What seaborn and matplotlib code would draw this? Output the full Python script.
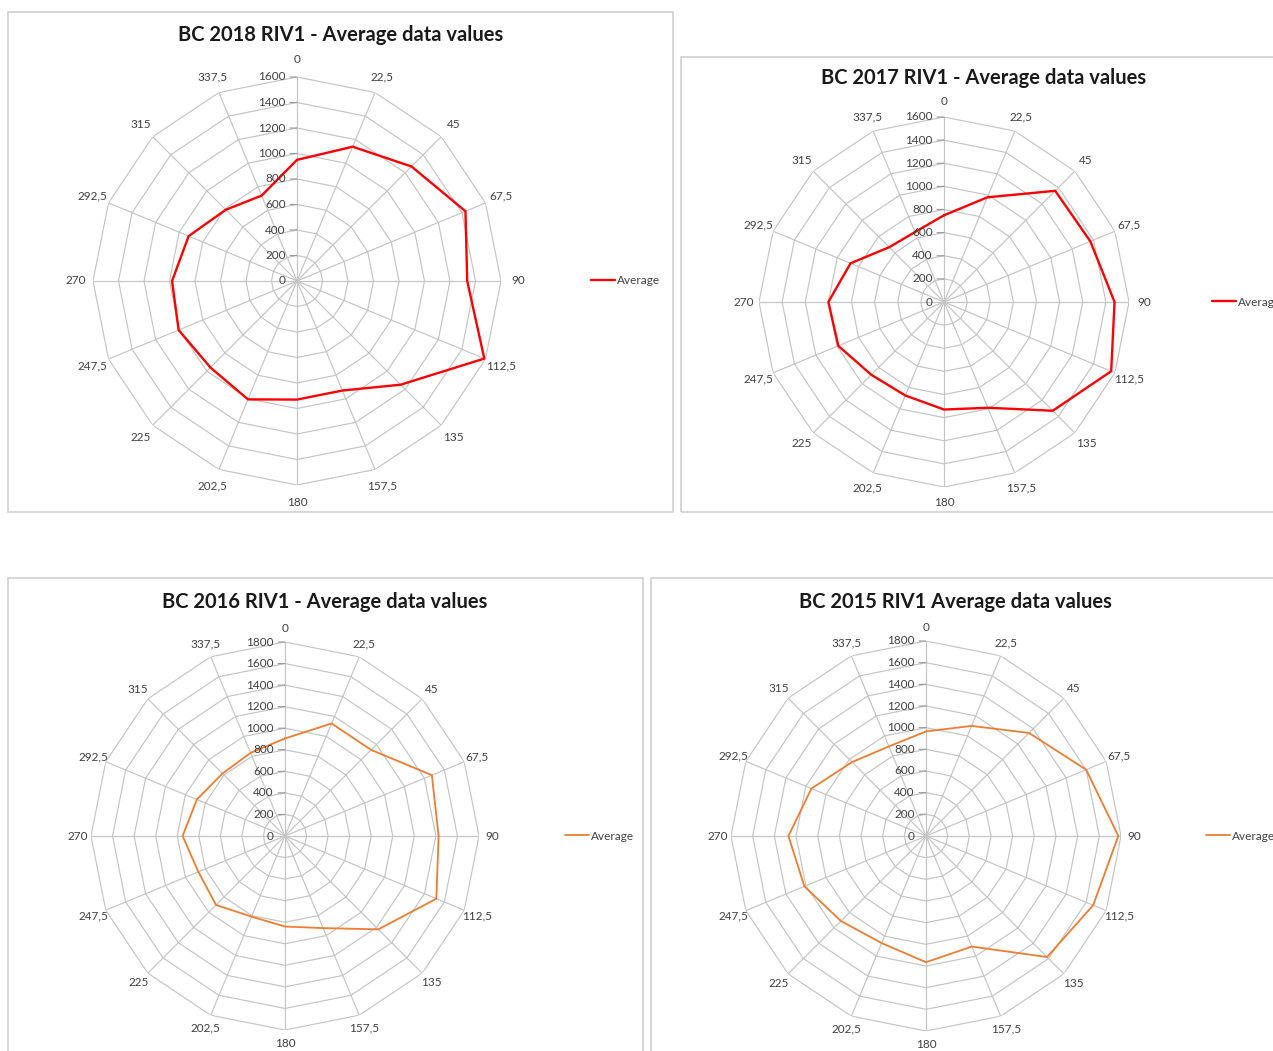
import numpy as np
import pandas as pd
import matplotlib
matplotlib.use("Agg")
import matplotlib.pyplot as plt
import seaborn as sns
from matplotlib.patches import Rectangle

sns.set_theme(style="white")
plt.rcParams['font.family'] = ['Lato', 'DejaVu Sans']

# ---------------- data ----------------
directions = ["0", "22,5", "45", "67,5", "90", "112,5", "135", "157,5",
              "180", "202,5", "225", "247,5", "270", "292,5", "315", "337,5"]
angles_deg = [0, 22.5, 45, 67.5, 90, 112.5, 135, 157.5,
              180, 202.5, 225, 247.5, 270, 292.5, 315, 337.5]

avg_2018 = [950, 1140, 1270, 1430, 1335, 1590, 1150, 930,
            930, 1005, 960, 1005, 980, 920, 790, 725]
avg_2017 = [750, 980, 1360, 1370, 1475, 1565, 1330, 990,
            930, 875, 890, 990, 1000, 875, 670, 655]
avg_2016 = [905, 1130, 1130, 1475, 1425, 1520, 1225, 925,
            840, 810, 905, 870, 950, 885, 820, 835]
avg_2015 = [965, 1100, 1345, 1600, 1775, 1670, 1580, 1105,
            1165, 1070, 1110, 1215, 1270, 1145, 965, 895]

titles = ["BC 2018 RIV1 - Average data values",
          "BC 2017 RIV1 - Average data values",
          "BC 2016 RIV1 - Average data values",
          "BC 2015 RIV1 Average data values"]
series = [avg_2018, avg_2017, avg_2016, avg_2015]
rmaxes = [1600, 1600, 1800, 1800]
rstep = 200
colors = ["#ff0000", "#ff0000", "#ed7d31", "#ed7d31"]
lwidths = [1.7, 1.7, 1.3, 1.3]

# layout in pixels (figure 1273 x 1051)
W, H = 1273, 1051
centers = [(297, 281), (944, 302), (285, 836), (926, 836)]
radii = [204, 185, 194, 195]
label_factor = [1.085, 1.085, 1.07, 1.07]
boxes = [(8, 12, 673, 512), (681, 57, 1290, 512), (8, 578, 643, 1060), (651, 578, 1290, 1060)]
title_pos = [(341, 35), (984, 78), (325, 602), (955, 602)]
legend_pos = [(591, 281), (1212, 302), (565, 836), (1206, 836)]

fig = plt.figure(figsize=(W / 100, H / 100), dpi=100)
fig.patch.set_facecolor("white")

theta = np.deg2rad(angles_deg)
theta_closed = np.append(theta, theta[0])
grid_col = "#c4c4c4"
txt_col = "#404040"

for i in range(4):
    bx0, by0, bx1, by1 = boxes[i]
    fig.add_artist(Rectangle((bx0 / W, 1 - by1 / H), (bx1 - bx0) / W, (by1 - by0) / H,
                             transform=fig.transFigure, fill=False,
                             edgecolor="#d0d0d0", linewidth=1.2))

    cx, cy = centers[i]
    R = radii[i]
    ax = fig.add_axes([(cx - R) / W, 1 - (cy + R) / H, 2 * R / W, 2 * R / H],
                      projection="polar")
    ax.set_theta_zero_location("N")
    ax.set_theta_direction(-1)
    ax.patch.set_alpha(0)
    ax.grid(False)
    ax.spines["polar"].set_visible(False)
    ax.set_xticks([])
    ax.set_yticks([])

    rmax = rmaxes[i]
    levels = list(range(rstep, rmax + 1, rstep))
    for v in levels:
        ax.plot(theta_closed, [v] * len(theta_closed), color=grid_col, lw=0.85, zorder=1)
    for t in theta:
        ax.plot([t, t], [0, rmax], color=grid_col, lw=0.85, zorder=1)

    vals = series[i]
    df = pd.DataFrame({"theta": np.append(theta, theta[0]),
                       "value": vals + [vals[0]]})
    sns.lineplot(data=df, x="theta", y="value", ax=ax, sort=False, estimator=None,
                 color=colors[i], linewidth=lwidths[i], label="Average", zorder=3)
    ax.set_xlabel("")
    ax.set_ylabel("")
    ax.set_ylim(0, rmax)

    # radial labels along 0 spoke
    for v in range(0, rmax + 1, rstep):
        ax.annotate(f"{v}", xy=(0, v), xytext=(-8, 0), textcoords="offset points",
                    ha="right", va="center", fontsize=8.5, color=txt_col,
                    annotation_clip=False)
        if v > 0:
            ax.annotate("", xy=(0, v), xytext=(-5, 0), textcoords="offset points",
                        arrowprops=dict(arrowstyle="-", color="#999999", lw=0.8,
                                        shrinkA=0, shrinkB=0),
                        annotation_clip=False)

    # direction labels
    for t, lab in zip(theta, directions):
        ax.text(t, rmax * label_factor[i], lab, ha="center", va="center", fontsize=8.5,
                color=txt_col, clip_on=False)

    lx, ly = legend_pos[i]
    ax.legend(loc="center left", bbox_to_anchor=(lx / W, 1 - ly / H),
              bbox_transform=fig.transFigure, frameon=False, borderpad=0,
              borderaxespad=0, handlelength=2.0, handletextpad=0.2,
              fontsize=8.5, labelcolor=txt_col)

    tx, ty = title_pos[i]
    fig.text(tx / W, 1 - ty / H, titles[i], ha="center", va="center",
             fontsize=14.5, fontweight="bold", color="#1a1a1a")

fig.savefig("out.png", dpi=100, facecolor="white")
